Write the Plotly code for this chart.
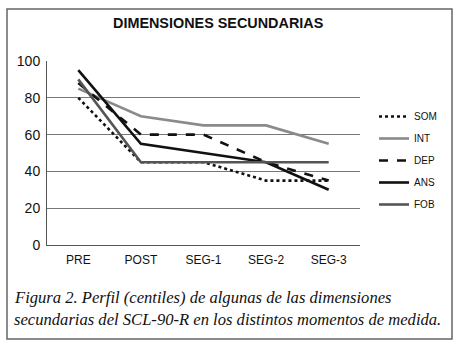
import plotly.graph_objects as go

categories = ["PRE", "POST", "SEG-1", "SEG-2", "SEG-3"]
som = [80, 45, 45, 35, 35]
int_ = [85, 70, 65, 65, 55]
dep = [88, 60, 60, 45, 35]
ans = [95, 55, 50, 45, 30]
fob = [90, 45, 45, 45, 45]
y_ticks = [0, 20, 40, 60, 80, 100]

series = [
    ("SOM", som, "#111111", "dot"),
    ("INT", int_, "#8a8a8a", "solid"),
    ("DEP", dep, "#111111", "dash"),
    ("ANS", ans, "#111111", "solid"),
    ("FOB", fob, "#555555", "solid"),
]

fig = go.Figure()
for name, vals, color, dash in series:
    fig.add_trace(go.Scatter(x=categories, y=vals, mode="lines", name=name,
                             legendgroup=name,
                             line=dict(color=color, width=2.6, dash=dash)))

W, H = 459, 350
L, R, T, B = 47, 360, 61, 245
pw, ph = R - L, B - T

def px(x):
    return (x - L) / pw

def py(y):
    return (B - y) / ph

fig.update_layout(
    width=W, height=H,
    margin=dict(l=L, r=W - R, t=T, b=H - B),
    paper_bgcolor="white", plot_bgcolor="white",
    font=dict(family="Arial, Liberation Sans, sans-serif", color="#111111"),
    showlegend=True,
    legend=dict(x=px(374), y=py(102), xanchor="left", yanchor="top",
                font=dict(size=10, family="Arial, Liberation Sans, sans-serif"),
                tracegroupgap=3, itemwidth=30, bgcolor="rgba(0,0,0,0)"),
    xaxis=dict(type="category", showgrid=False, showline=True, linecolor="#555555",
               linewidth=1, ticks="", tickfont=dict(size=12), zeroline=False,
               range=[-0.5, 4.5], ticklabelstandoff=4),
    yaxis=dict(range=[0, 100], tickvals=y_ticks, showgrid=True, gridcolor="#777777",
               gridwidth=1, showline=True, linecolor="#555555", linewidth=1,
               ticks="", tickfont=dict(size=14), zeroline=False, ticklabelstandoff=3),
    shapes=[dict(type="rect", xref="paper", yref="paper",
                 x0=px(7), x1=px(452), y0=py(339), y1=py(9),
                 line=dict(color="#666666", width=1.5), layer="below")],
    annotations=[
        dict(text="<b>DIMENSIONES SECUNDARIAS</b>", xref="paper", yref="paper",
             x=px(218), y=py(23), showarrow=False, xanchor="center", yanchor="middle",
             font=dict(size=14.4, family="Arial, Liberation Sans, sans-serif")),
        dict(text="<i>Figura 2. Perfil (centiles) de algunas de las dimensiones</i>",
             xref="paper", yref="paper", x=px(12), y=py(297), showarrow=False,
             xanchor="left", yanchor="middle",
             font=dict(size=16.6, family="Liberation Serif, Times New Roman, serif")),
        dict(text="<i>secundarias del SCL-90-R en los distintos momentos de medida.</i>",
             xref="paper", yref="paper", x=px(12), y=py(319), showarrow=False,
             xanchor="left", yanchor="middle",
             font=dict(size=16.6, family="Liberation Serif, Times New Roman, serif")),
    ],
)

fig.write_html("out.html")
